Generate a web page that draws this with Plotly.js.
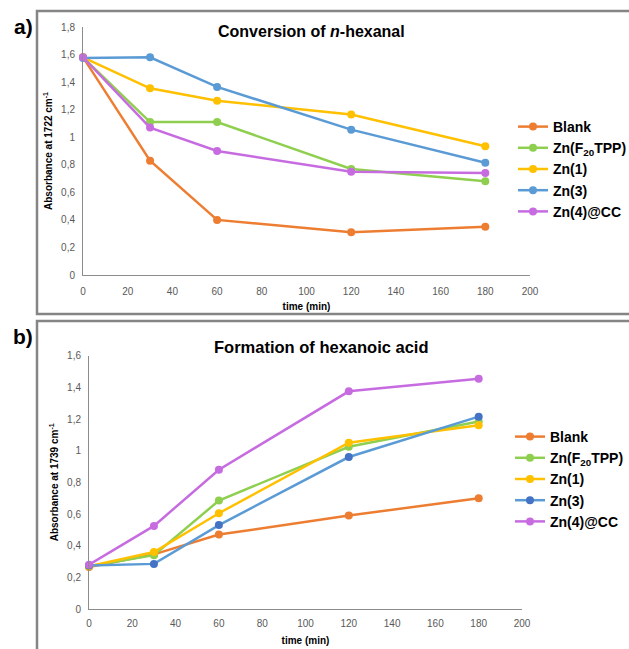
<!DOCTYPE html>
<html>
<head>
<meta charset="utf-8">
<script src="https://cdn.plot.ly/plotly-3.0.1.min.js"></script>
<style>html,body{margin:0;padding:0;background:#fff;}#chart{width:629px;height:649px;}</style>
</head>
<body>
<div id="chart"></div>
<script>
// ---- data ----
const time = [0, 30, 60, 120, 180];
const seriesNames = ["Blank", "Zn(F<sub>20</sub>TPP)", "Zn(1)", "Zn(3)", "Zn(4)@CC"];

// panel a) Conversion of n-hexanal (absorbance at 1722 cm-1)
const convBlank = [1.58, 0.83, 0.40, 0.31, 0.35];
const convZnF20TPP = [1.58, 1.11, 1.11, 0.77, 0.68];
const convZn1 = [1.58, 1.355, 1.265, 1.165, 0.935];
const convZn3 = [1.575, 1.58, 1.365, 1.055, 0.815];
const convZn4CC = [1.58, 1.07, 0.90, 0.75, 0.74];

// panel b) Formation of hexanoic acid (absorbance at 1739 cm-1)
const formBlank = [0.265, 0.345, 0.47, 0.59, 0.70];
const formZnF20TPP = [0.27, 0.34, 0.685, 1.025, 1.185];
const formZn1 = [0.27, 0.36, 0.605, 1.05, 1.16];
const formZn3 = [0.275, 0.285, 0.53, 0.96, 1.215];
const formZn4CC = [0.28, 0.525, 0.88, 1.375, 1.455];

const xTickVals = [0, 20, 40, 60, 80, 100, 120, 140, 160, 180, 200];
const xTickText = ["0", "20", "40", "60", "80", "100", "120", "140", "160", "180", "200"];
const yaTickVals = [0, 0.2, 0.4, 0.6, 0.8, 1.0, 1.2, 1.4, 1.6, 1.8];
const yaTickText = ["0", "0,2", "0,4", "0,6", "0,8", "1", "1,2", "1,4", "1,6", "1,8"];
const ybTickVals = [0, 0.2, 0.4, 0.6, 0.8, 1.0, 1.2, 1.4, 1.6];
const ybTickText = ["0", "0,2", "0,4", "0,6", "0,8", "1", "1,2", "1,4", "1,6"];

// ---- styles ----
const lineColors = ["#ED7D31", "#8FCF4F", "#FFC000", "#5B9BD5", "#C76CE0"];
const markerColorsA = ["#ED7D31", "#8FCF4F", "#FFC000", "#5B9BD5", "#C76CE0"];
const markerColorsB = ["#ED7D31", "#8FCF4F", "#FFC000", "#4472C4", "#C76CE0"];
const FONT = "Liberation Sans, Arial, sans-serif";

const dataA = [convBlank, convZnF20TPP, convZn1, convZn3, convZn4CC];
const dataB = [formBlank, formZnF20TPP, formZn1, formZn3, formZn4CC];

const traces = [];
dataA.forEach((ys, i) => {
  traces.push({
    x: time, y: ys, name: seriesNames[i], type: "scatter", mode: "lines+markers",
    xaxis: "x", yaxis: "y", legend: "legend", cliponaxis: false,
    line: {color: lineColors[i], width: 2.5},
    marker: {color: markerColorsA[i], size: 8}
  });
});
dataB.forEach((ys, i) => {
  traces.push({
    x: time, y: ys, name: seriesNames[i], type: "scatter", mode: "lines+markers",
    xaxis: "x2", yaxis: "y2", legend: "legend2", cliponaxis: false,
    line: {color: lineColors[i], width: 2.5},
    marker: {color: markerColorsB[i], size: 8}
  });
});

const W = 629, H = 649;
const px = v => v / W;
const py = v => 1 - v / H;

const axisCommon = {
  showgrid: false, zeroline: false, showline: true, linecolor: "#8c8c8c", linewidth: 1,
  ticks: "", tickfont: {family: FONT, size: 10, color: "#595959"}, fixedrange: true
};
const titleFont = {family: FONT, size: 10, color: "#000", weight: "bold"};

const layout = {
  width: W, height: H,
  margin: {l: 0, r: 0, t: 0, b: 0, autoexpand: false},
  paper_bgcolor: "#ffffff", plot_bgcolor: "#ffffff",
  font: {family: FONT},
  showlegend: true,
  xaxis: Object.assign({}, axisCommon, {
    domain: [px(83), px(530)], range: [0, 200], anchor: "y",
    tickmode: "array", tickvals: xTickVals, ticktext: xTickText, ticklabelstandoff: 7,
    title: {text: "time (min)", font: titleFont, standoff: 6}
  }),
  yaxis: Object.assign({}, axisCommon, {
    domain: [py(275), py(27)], range: [0, 1.8], anchor: "x",
    tickmode: "array", tickvals: yaTickVals, ticktext: yaTickText, ticklabelstandoff: 5,
    title: {text: "Absorbance at 1722 cm<sup>-1</sup>", font: titleFont, standoff: 6}
  }),
  xaxis2: Object.assign({}, axisCommon, {
    domain: [px(89), px(522)], range: [0, 200], anchor: "y2",
    tickmode: "array", tickvals: xTickVals, ticktext: xTickText, ticklabelstandoff: 5,
    title: {text: "time (min)", font: titleFont, standoff: 8}
  }),
  yaxis2: Object.assign({}, axisCommon, {
    domain: [py(609), py(355.7)], range: [0, 1.6], anchor: "x2",
    tickmode: "array", tickvals: ybTickVals, ticktext: ybTickText, ticklabelstandoff: 5,
    title: {text: "Absorbance at 1739 cm<sup>-1</sup>", font: titleFont, standoff: 6}
  }),
  legend: {
    x: px(513), xanchor: "left", y: py(111), yanchor: "top",
    font: {family: FONT, size: 14, color: "#000", weight: "bold"}, bgcolor: "rgba(0,0,0,0)",
    itemclick: false, itemdoubleclick: false
  },
  legend2: {
    x: px(510), xanchor: "left", y: py(421), yanchor: "top",
    font: {family: FONT, size: 14, color: "#000", weight: "bold"}, bgcolor: "rgba(0,0,0,0)",
    itemclick: false, itemdoubleclick: false
  },
  annotations: [
    {text: "<b>Conversion of <i>n</i>-hexanal</b>", xref: "paper", yref: "paper", x: px(311), y: py(31),
     xanchor: "center", yanchor: "middle", showarrow: false, font: {family: FONT, size: 16, color: "#000"}},
    {text: "<b>Formation of hexanoic acid</b>", xref: "paper", yref: "paper", x: px(321), y: py(347),
     xanchor: "center", yanchor: "middle", showarrow: false, font: {family: FONT, size: 16.5, color: "#000"}},
    {text: "<b>a)</b>", xref: "paper", yref: "paper", x: px(23), y: py(26),
     xanchor: "center", yanchor: "middle", showarrow: false, font: {family: FONT, size: 21, color: "#000"}},
    {text: "<b>b)</b>", xref: "paper", yref: "paper", x: px(23), y: py(336),
     xanchor: "center", yanchor: "middle", showarrow: false, font: {family: FONT, size: 21, color: "#000"}}
  ],
  shapes: [
    {type: "rect", xref: "paper", yref: "paper", x0: px(37), x1: px(640), y0: py(314), y1: py(11),
     line: {color: "#858585", width: 2.5}, fillcolor: "rgba(0,0,0,0)", layer: "below"},
    {type: "rect", xref: "paper", yref: "paper", x0: px(37), x1: px(640), y0: py(670), y1: py(321),
     line: {color: "#858585", width: 2.5}, fillcolor: "rgba(0,0,0,0)", layer: "below"}
  ]
};

Plotly.newPlot("chart", traces, layout, {staticPlot: true, displayModeBar: false});
</script>
</body>
</html>
